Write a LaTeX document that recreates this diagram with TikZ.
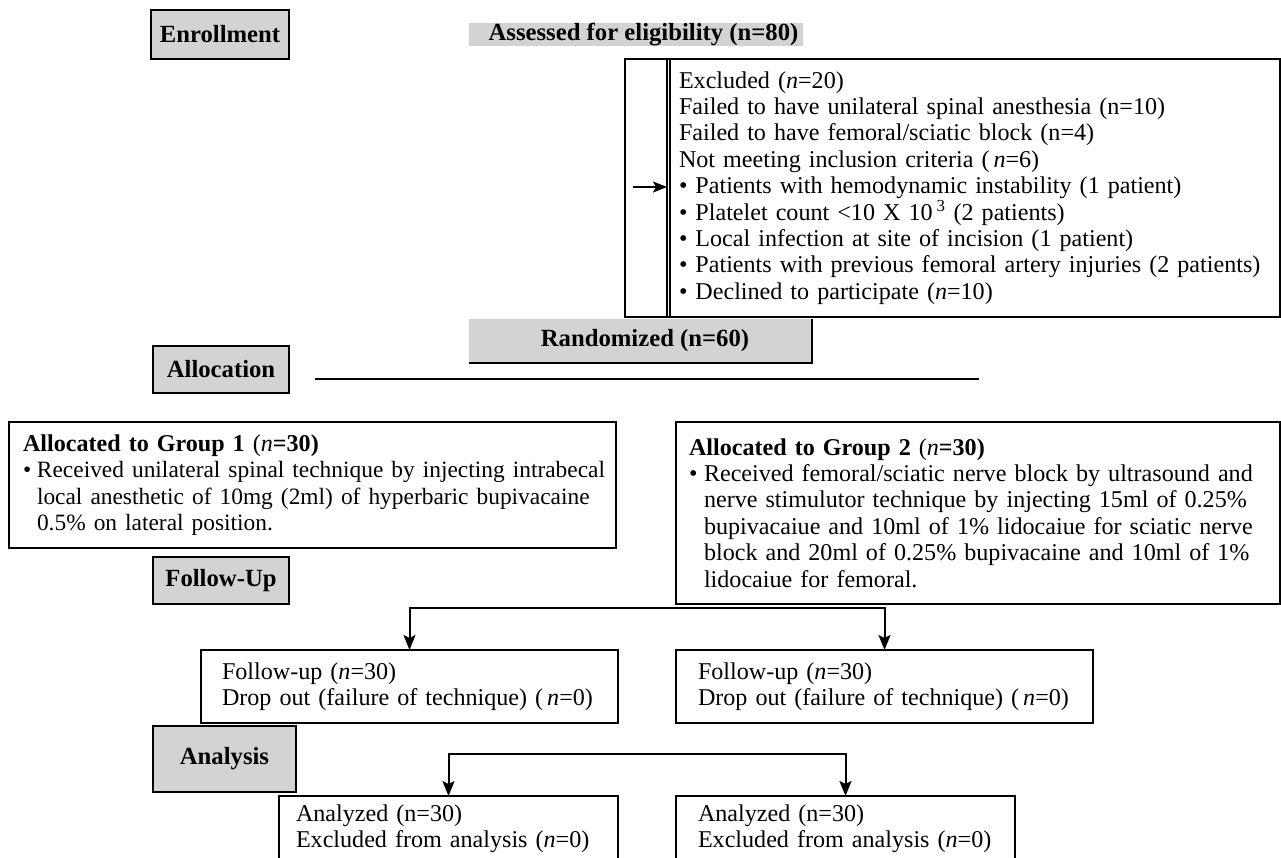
\documentclass[tikz,border=0pt]{standalone}
\usepackage{fontspec}
\setmainfont{Liberation Serif}
\usetikzlibrary{arrows.meta}
\definecolor{boxgray}{HTML}{D3D3D3}
\begin{document}
\begin{tikzpicture}[x=1pt,y=-1pt,
  every node/.style={inner sep=0pt, outer sep=0pt, font=\fontsize{24.1}{26.4}\selectfont},
  lab/.style={draw, line width=2pt, fill=boxgray, font=\fontsize{24.7}{26.5}\selectfont\bfseries},
  bar/.style={fill=boxgray, font=\fontsize{24.7}{26.5}\selectfont\bfseries},
  txtbox/.style={draw, line width=2pt, anchor=north west, align=left},
  arr/.style={line width=2pt, -{Stealth[length=15pt,width=12pt,inset=3pt]}},
  plain/.style={line width=2pt}
]
\useasboundingbox (0,0) rectangle (1281,858);
\fill[white] (0,0) rectangle (1281,858);
\clip (0,0) rectangle (1281,858);

% stage labels
\node[lab, minimum width=138pt, minimum height=49pt] (enr) at (220,34.5) {Enrollment};
\node[lab, minimum width=136pt, minimum height=47pt] (alloc) at (221,369.5) {Allocation};
\node[lab, minimum width=136pt, minimum height=47pt] (fulab) at (221,580.5) {Follow-Up};
\node[lab, minimum width=143pt, minimum height=66pt] (anlab) at (224.5,759) {Analysis};

% assessed
\node[bar, minimum width=334pt, minimum height=23pt] (ass) at (636,34.5) {\hspace*{15pt}Assessed for eligibility (n=80)};

% excluded
\node[draw, line width=2pt, anchor=north west, minimum width=655pt, minimum height=258pt] (exout) at (625,59) {};
\node[txtbox, inner xsep=9pt, text width=592pt, minimum height=258pt] (ex) at (670,59) {%
\mbox{Excluded (\textit{n}=20)}\\
\mbox{Failed to have unilateral spinal anesthesia (n=10)}\\
\mbox{Failed to have femoral/sciatic block (n=4)}\\
\mbox{Not meeting inclusion criteria (\,\textit{n}=6)}\\
\mbox{• Patients with hemodynamic instability (1 patient)}\\
\mbox{• Platelet count <10 X 10\,\textsuperscript{3} (2 patients)}\\
\mbox{• Local infection at site of incision (1 patient)}\\
\mbox{• Patients with previous femoral artery injuries (2 patients)}\\
\mbox{• Declined to participate (\textit{n}=10)}};
\draw[plain] ([xshift=-3pt]ex.north west) -- ([xshift=-3pt]ex.south west);
\coordinate (exa) at (633,187);
\draw[line width=2pt, -{Stealth[length=14pt,width=11pt,inset=3pt]}] (exa) -- ([xshift=-3pt]exa -| ex.west);

% randomized
\node[bar, minimum width=343pt, minimum height=44pt] (rand) at (640.5,341) {\hspace*{9pt}Randomized (n=60)};
\draw[line width=2.5pt] (rand.north east) -- (rand.south east) -- (rand.south west);
\coordinate (hla) at (315,379);
\coordinate (hlb) at (979,379);
\draw[plain] (hla) -- (hlb);

% allocation groups
\node[txtbox, inner xsep=14pt, text width=579pt, minimum height=126pt] (g1) at (9,422) {%
\mbox{\textbf{Allocated to Group 1} (\textit{n}\textbf{=30)}}\\
{\fontsize{23.4}{26.5}\selectfont\makebox[14pt][l]{•}\makebox[563pt][s]{Received unilateral spinal technique by injecting intrabecal}}\\
{\fontsize{23.4}{26.5}\selectfont\hspace*{14pt}\makebox[563pt][s]{local anesthetic of 10mg (2ml) of hyperbaric bupivacaine}}\\
{\fontsize{23.4}{26.5}\selectfont\hspace*{14pt}\mbox{0.5\% on lateral position.}}};

\node[txtbox, inner xsep=13pt, text width=578pt, minimum height=182pt] (g2) at (676,422) {%
\mbox{\textbf{Allocated to Group 2} (\textit{n}\textbf{=30)}}\\
\makebox[15pt][l]{•}\makebox[561pt][s]{Received femoral/sciatic nerve block by ultrasound and}\\
\hspace*{15pt}\makebox[561pt][s]{nerve stimulutor technique by injecting 15ml of 0.25\%}\\
\hspace*{15pt}\makebox[561pt][s]{bupivacaiue and 10ml of 1\% lidocaiue for sciatic nerve}\\
\hspace*{15pt}\makebox[558pt][s]{block and 20ml of 0.25\% bupivacaine and 10ml of 1\%}\\
\hspace*{15pt}\mbox{lidocaiue for femoral.}};

% follow-up
\node[txtbox, inner xsep=21pt, text width=375pt, minimum height=73pt] (fu1) at (201,650) {%
\mbox{Follow-up (\textit{n}=30)}\\
\mbox{Drop out (failure of technique) (\,\textit{n}=0)}};
\node[txtbox, inner xsep=22pt, text width=373pt, minimum height=73pt] (fu2) at (676,650) {%
\mbox{Follow-up (\textit{n}=30)}\\
\mbox{Drop out (failure of technique) (\,\textit{n}=0)}};

% analysis
\node[txtbox, inner xsep=17pt, text width=305pt, minimum height=66pt] (an1) at (279,796) {%
\mbox{Analyzed (n=30)}\\
\mbox{Excluded from analysis (\textit{n}=0)}};
\node[txtbox, inner xsep=22pt, text width=295pt, minimum height=66pt] (an2) at (676,796) {%
\mbox{Analyzed (n=30)}\\
\mbox{Excluded from analysis (\textit{n}=0)}};

% connectors
\coordinate (ba) at (647,608);
\draw[arr] (ba) -| (fu1.north);
\draw[arr] (ba) -| (fu2.north);
\coordinate (bb) at (647,754);
\draw[arr] (bb) -| (an1.north);
\draw[arr] (bb) -| (an2.north);
\end{tikzpicture}
\end{document}
